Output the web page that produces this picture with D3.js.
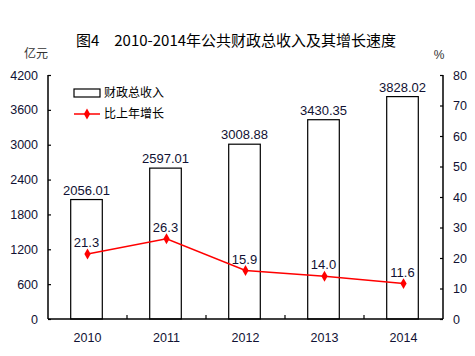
<!DOCTYPE html>
<html><head><meta charset="utf-8">
<script src="https://cdn.jsdelivr.net/npm/d3@7"></script>
<style>body{margin:0;background:#fff}</style>
</head><body>
<svg id="c" width="475" height="356"></svg>
<script>
const years = ["2010","2011","2012","2013","2014"];
const revenue = [2056.01, 2597.01, 3008.88, 3430.35, 3828.02];
const growth = [21.3, 26.3, 15.9, 14.0, 11.6];
const leftTicks = [0,600,1200,1800,2400,3000,3600,4200];
const rightTicks = [0,10,20,30,40,50,60,70,80];
const title = "图4\u30002010-2014年公共财政总收入及其增长速度";

const svg = d3.select("#c");
const L=48, R=443, T=75, B=319;
const font = "Arial, 'Liberation Sans', sans-serif";
const cjk = "'Noto Sans CJK SC', sans-serif";
const txtColor = "#111133";

const x = d3.scaleBand().domain(years).range([L,R]);
const yL = d3.scaleLinear().domain([0,4200]).range([B,T]);
const yR = d3.scaleLinear().domain([0,80]).range([B,T]);

// title
svg.append("text").attr("x",236).attr("y",46).attr("text-anchor","middle")
  .attr("font-family",cjk).attr("font-size",15).attr("fill","#000").text(title);
svg.append("text").attr("x",36).attr("y",58).attr("text-anchor","middle")
  .attr("font-family",cjk).attr("font-size",12).attr("fill","#333").text("亿元");
svg.append("text").attr("x",439).attr("y",59).attr("text-anchor","middle")
  .attr("font-family",font).attr("font-size",12).attr("fill","#333").text("%");

// bars
svg.selectAll("rect.bar").data(years).enter().append("rect")
  .attr("x",(d)=>x(d)+x.bandwidth()*0.3-1)
  .attr("width",x.bandwidth()*0.4)
  .attr("y",(d,i)=>yL(revenue[i]))
  .attr("height",(d,i)=>B-yL(revenue[i]))
  .attr("fill","#fff").attr("stroke","#000").attr("stroke-width",1.2);

svg.selectAll("text.bl").data(years).enter().append("text")
  .attr("x",(d)=>x(d)+x.bandwidth()/2-1)
  .attr("y",(d,i)=>yL(revenue[i])-5)
  .attr("text-anchor","middle").attr("font-family",font).attr("font-size",13)
  .attr("fill",txtColor).text((d,i)=>revenue[i].toFixed(2));

// axes
const axL = d3.axisLeft(yL).tickValues(leftTicks).tickFormat(d3.format("d")).tickSize(-3).tickPadding(10);
const gL = svg.append("g").attr("transform",`translate(${L},0)`).call(axL);
const axR = d3.axisRight(yR).tickValues(rightTicks).tickFormat(d3.format("d")).tickSize(-3).tickPadding(10);
const gR = svg.append("g").attr("transform",`translate(${R},0)`).call(axR);
const axB = d3.axisBottom(x).tickSize(0).tickPadding(14);
const gB = svg.append("g").attr("transform",`translate(0,${B})`).call(axB);
[gL,gR,gB].forEach(g=>{
  g.select(".domain").attr("stroke","#000").attr("stroke-width",1.5);
  g.selectAll("line").attr("stroke","#000").attr("stroke-width",1.2);
  g.selectAll("text").attr("font-family",font).attr("font-size",12.5).attr("fill",txtColor);
});
gL.select(".domain").attr("d",`M0,${T}V${B}`);
gR.select(".domain").attr("d",`M0,${T}V${B}`);
gB.select(".domain").attr("d",`M${L},0H${R}`);
// category boundary ticks on bottom axis
svg.selectAll("line.bt").data(years.slice(1)).enter().append("line")
  .attr("x1",d=>x(d)).attr("x2",d=>x(d)).attr("y1",B).attr("y2",B-4)
  .attr("stroke","#000").attr("stroke-width",1.2);

// line
const lineGen = d3.line().x((d,i)=>x(years[i])+x.bandwidth()/2).y(d=>yR(d));
svg.append("path").datum(growth).attr("d",lineGen).attr("fill","none")
  .attr("stroke","#ff0000").attr("stroke-width",1.5);
const diamond = d3.symbol().type(d3.symbolDiamond).size(34);
svg.selectAll("path.pt").data(growth).enter().append("path")
  .attr("d",diamond)
  .attr("transform",(d,i)=>`translate(${x(years[i])+x.bandwidth()/2},${yR(d)})`)
  .attr("fill","#ff0000");
svg.selectAll("text.gl").data(growth).enter().append("text")
  .attr("x",(d,i)=>x(years[i])+x.bandwidth()/2-1)
  .attr("y",d=>yR(d)-7)
  .attr("text-anchor","middle").attr("font-family",font).attr("font-size",13)
  .attr("fill",txtColor).text(d=>d.toFixed(1));

// legend
svg.append("rect").attr("x",74).attr("y",89).attr("width",26).attr("height",8)
  .attr("fill","#fff").attr("stroke","#000").attr("stroke-width",1.2);
svg.append("text").attr("x",104).attr("y",97).attr("font-family",cjk).attr("font-size",12)
  .attr("fill","#000").text("财政总收入");
svg.append("line").attr("x1",74).attr("x2",100).attr("y1",114).attr("y2",114)
  .attr("stroke","#ff0000").attr("stroke-width",1.5);
svg.append("path").attr("d",diamond).attr("transform","translate(87,114)").attr("fill","#ff0000");
svg.append("text").attr("x",104).attr("y",118).attr("font-family",cjk).attr("font-size",12)
  .attr("fill","#000").text("比上年增长");
</script>
</body></html>
